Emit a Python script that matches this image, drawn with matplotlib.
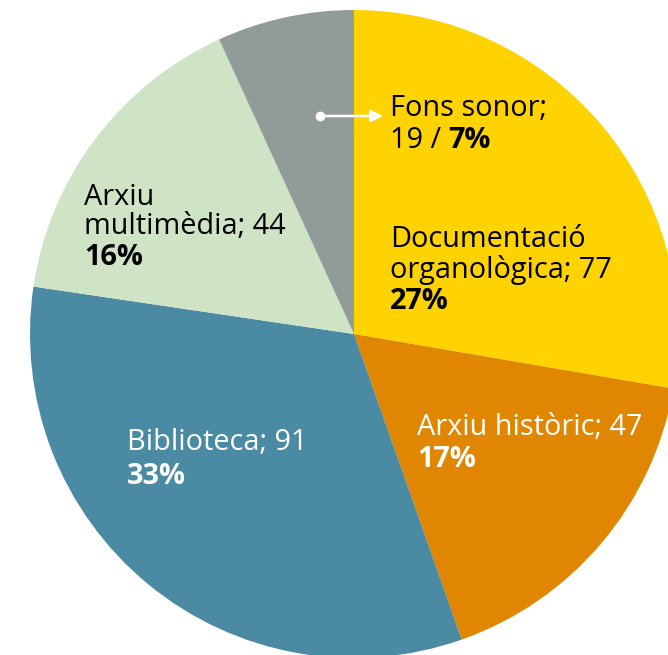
import matplotlib
matplotlib.use("Agg")
import matplotlib.pyplot as plt

categories = ["Documentació organològica", "Arxiu històric", "Biblioteca", "Arxiu multimèdia", "Fons sonor"]
values = [77, 47, 91, 44, 19]
percents = ["27%", "17%", "33%", "16%", "7%"]
colors = ["#FFD300", "#E08600", "#4A8AA3", "#CFE3C5", "#919B98"]

W, H = 668, 655
fig = plt.figure(figsize=(W / 100, H / 100), dpi=100)
ax = fig.add_axes([0, 0, 1, 1])

cx, cy_px, R = 354, 334, 324
ax.pie(values, colors=colors, startangle=90, counterclock=False,
       center=(cx, H - cy_px), radius=R, frame=True,
       wedgeprops=dict(linewidth=0))
ax.set_xlim(0, W)
ax.set_ylim(0, H)
ax.axis("off")

FONT = "Open Sans"
FS = 20.8

def line(x, ybase, s, color, bold=False):
    return ax.text(x, H - ybase, s, fontsize=FS, family=FONT, color=color,
                   fontweight="bold" if bold else "normal",
                   ha="left", va="baseline")

# Fons sonor
line(390, 116, "Fons sonor;", "black")
t = line(390, 148, "19 / ", "black")
fig.canvas.draw()
r = fig.canvas.get_renderer()
bb = t.get_window_extent(r)
line(bb.x1, 148, percents[4], "black", bold=True)
ax.annotate("", xy=(383, H - 116), xytext=(320, H - 116),
            arrowprops=dict(arrowstyle="-|>", color="white", lw=1.8,
                            mutation_scale=18, shrinkA=0, shrinkB=0))
ax.plot([320], [H - 116], "o", color="white", markersize=6)

# Documentació organològica
line(390, 247, "Documentació", "black")
line(390, 278, f"organològica; {values[0]}", "black")
line(390, 309, percents[0], "black", bold=True)

# Arxiu històric
line(417, 435, f"Arxiu històric; {values[1]}", "white")
line(417, 467, percents[1], "white", bold=True)

# Biblioteca
line(127, 450, f"Biblioteca; {values[2]}", "white")
line(127, 484, percents[2], "white", bold=True)

# Arxiu multimèdia
line(84, 205, "Arxiu", "black")
line(84, 234, f"multimèdia; {values[3]}", "black")
line(84, 265, percents[3], "black", bold=True)

fig.savefig("out.png", dpi=100)
